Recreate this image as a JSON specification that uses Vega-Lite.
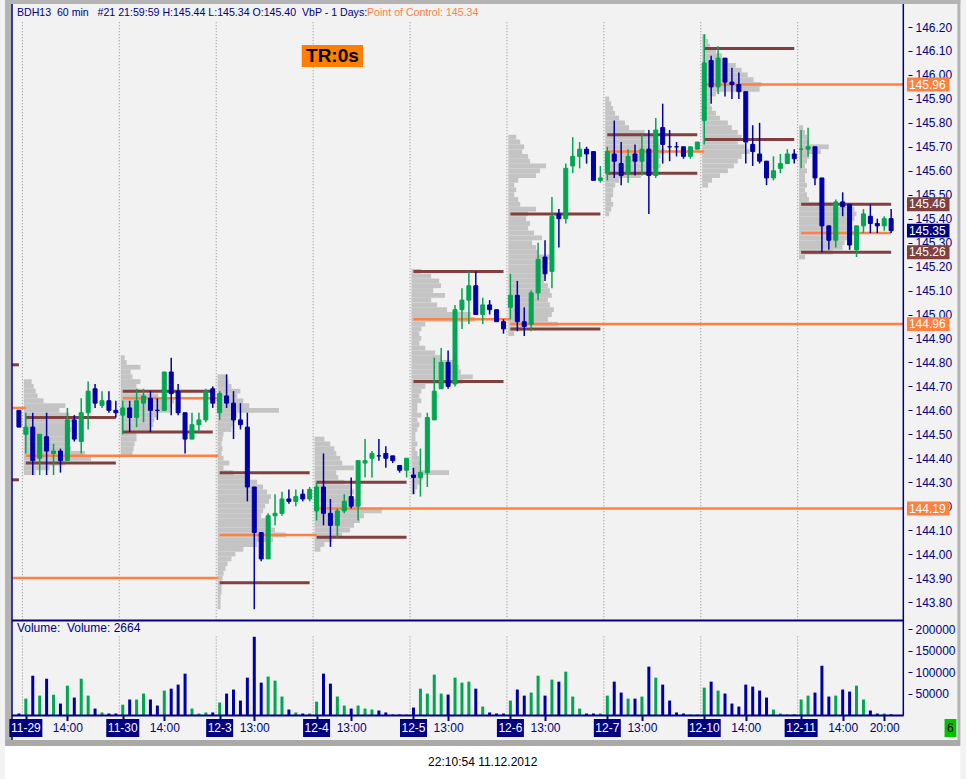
{
"$schema": "https://vega.github.io/schema/vega-lite/v6.json",
"width": 901, "height": 711.5, "padding": {"left": 7, "top": 4, "right": 58, "bottom": 63.5}, "autosize": {"type": "none"},
"background": "#f2f2f2",
"config": {"view": {"stroke": null, "fill": "#f2f2f2"}, "font": "Liberation Sans"},
"datasets": {
"bars": [
{"i":-1,"o":144.60,"h":144.60,"l":144.53,"c":144.53,"v":4600,"u":"dn"},
{"i":0,"o":144.50,"h":144.59,"l":144.42,"c":144.53,"v":39000,"u":"up"},
{"i":1,"o":144.53,"h":144.59,"l":144.33,"c":144.39,"v":92000,"u":"dn"},
{"i":2,"o":144.40,"h":144.50,"l":144.33,"c":144.50,"v":46000,"u":"up"},
{"i":3,"o":144.49,"h":144.59,"l":144.33,"c":144.43,"v":85000,"u":"dn"},
{"i":4,"o":144.42,"h":144.46,"l":144.33,"c":144.43,"v":48000,"u":"up"},
{"i":5,"o":144.43,"h":144.44,"l":144.34,"c":144.39,"v":27600,"u":"dn"},
{"i":6,"o":144.39,"h":144.61,"l":144.39,"c":144.56,"v":69000,"u":"up"},
{"i":7,"o":144.56,"h":144.58,"l":144.47,"c":144.48,"v":41500,"u":"dn"},
{"i":8,"o":144.47,"h":144.65,"l":144.42,"c":144.59,"v":85000,"u":"up"},
{"i":9,"o":144.59,"h":144.72,"l":144.52,"c":144.68,"v":46000,"u":"up"},
{"i":10,"o":144.69,"h":144.71,"l":144.61,"c":144.63,"v":16000,"u":"dn"},
{"i":11,"o":144.62,"h":144.68,"l":144.61,"c":144.64,"v":7000,"u":"up"},
{"i":12,"o":144.64,"h":144.68,"l":144.59,"c":144.60,"v":4600,"u":"dn"},
{"i":13,"o":144.60,"h":144.64,"l":144.57,"c":144.59,"v":4600,"u":"dn"},
{"i":14,"o":144.58,"h":144.64,"l":144.50,"c":144.61,"v":25000,"u":"up"},
{"i":15,"o":144.61,"h":144.64,"l":144.51,"c":144.57,"v":37000,"u":"dn"},
{"i":16,"o":144.57,"h":144.69,"l":144.53,"c":144.64,"v":37000,"u":"up"},
{"i":17,"o":144.63,"h":144.69,"l":144.55,"c":144.66,"v":50700,"u":"up"},
{"i":18,"o":144.65,"h":144.68,"l":144.51,"c":144.60,"v":37000,"u":"dn"},
{"i":19,"o":144.60,"h":144.65,"l":144.56,"c":144.60,"v":23000,"u":"dn"},
{"i":20,"o":144.60,"h":144.76,"l":144.60,"c":144.76,"v":57600,"u":"up"},
{"i":21,"o":144.76,"h":144.82,"l":144.58,"c":144.67,"v":62000,"u":"dn"},
{"i":22,"o":144.68,"h":144.71,"l":144.58,"c":144.59,"v":71400,"u":"dn"},
{"i":23,"o":144.59,"h":144.59,"l":144.42,"c":144.48,"v":96800,"u":"dn"},
{"i":24,"o":144.48,"h":144.59,"l":144.48,"c":144.54,"v":16000,"u":"up"},
{"i":25,"o":144.54,"h":144.59,"l":144.51,"c":144.56,"v":4600,"u":"up"},
{"i":26,"o":144.56,"h":144.69,"l":144.55,"c":144.68,"v":7000,"u":"up"},
{"i":27,"o":144.69,"h":144.70,"l":144.61,"c":144.63,"v":7000,"u":"dn"},
{"i":28,"o":144.59,"h":144.68,"l":144.56,"c":144.67,"v":30000,"u":"up"},
{"i":29,"o":144.66,"h":144.75,"l":144.61,"c":144.63,"v":50700,"u":"dn"},
{"i":30,"o":144.63,"h":144.68,"l":144.48,"c":144.56,"v":60000,"u":"dn"},
{"i":31,"o":144.56,"h":144.63,"l":144.52,"c":144.54,"v":34500,"u":"dn"},
{"i":32,"o":144.53,"h":144.59,"l":144.22,"c":144.28,"v":87500,"u":"dn"},
{"i":33,"o":144.28,"h":144.28,"l":143.77,"c":144.09,"v":182000,"u":"dn"},
{"i":34,"o":144.09,"h":144.09,"l":143.97,"c":143.98,"v":76000,"u":"dn"},
{"i":35,"o":143.98,"h":144.17,"l":143.98,"c":144.16,"v":90000,"u":"up"},
{"i":36,"o":144.16,"h":144.25,"l":144.12,"c":144.17,"v":80600,"u":"up"},
{"i":37,"o":144.17,"h":144.26,"l":144.16,"c":144.23,"v":43800,"u":"up"},
{"i":38,"o":144.23,"h":144.27,"l":144.21,"c":144.22,"v":13800,"u":"dn"},
{"i":39,"o":144.22,"h":144.27,"l":144.20,"c":144.24,"v":7000,"u":"up"},
{"i":40,"o":144.25,"h":144.27,"l":144.22,"c":144.23,"v":4600,"u":"dn"},
{"i":41,"o":144.23,"h":144.28,"l":144.22,"c":144.27,"v":4600,"u":"up"},
{"i":42,"o":144.18,"h":144.30,"l":144.14,"c":144.28,"v":32000,"u":"up"},
{"i":43,"o":144.28,"h":144.42,"l":144.12,"c":144.17,"v":96800,"u":"dn"},
{"i":44,"o":144.17,"h":144.23,"l":144.03,"c":144.12,"v":73700,"u":"dn"},
{"i":45,"o":144.12,"h":144.19,"l":144.07,"c":144.18,"v":43800,"u":"up"},
{"i":46,"o":144.18,"h":144.25,"l":144.17,"c":144.22,"v":23000,"u":"up"},
{"i":47,"o":144.24,"h":144.32,"l":144.19,"c":144.20,"v":16000,"u":"dn"},
{"i":48,"o":144.20,"h":144.39,"l":144.14,"c":144.39,"v":23000,"u":"up"},
{"i":49,"o":144.38,"h":144.48,"l":144.32,"c":144.39,"v":16000,"u":"up"},
{"i":50,"o":144.40,"h":144.43,"l":144.32,"c":144.42,"v":13800,"u":"up"},
{"i":51,"o":144.41,"h":144.48,"l":144.39,"c":144.41,"v":11500,"u":"dn"},
{"i":52,"o":144.42,"h":144.45,"l":144.36,"c":144.40,"v":7000,"u":"dn"},
{"i":53,"o":144.41,"h":144.41,"l":144.38,"c":144.39,"v":2300,"u":"dn"},
{"i":54,"o":144.37,"h":144.37,"l":144.34,"c":144.35,"v":2300,"u":"dn"},
{"i":55,"o":144.35,"h":144.40,"l":144.32,"c":144.40,"v":2300,"u":"up"},
{"i":56,"o":144.33,"h":144.36,"l":144.25,"c":144.32,"v":18400,"u":"dn"},
{"i":57,"o":144.32,"h":144.44,"l":144.24,"c":144.34,"v":62000,"u":"up"},
{"i":58,"o":144.34,"h":144.59,"l":144.28,"c":144.57,"v":50700,"u":"up"},
{"i":59,"o":144.56,"h":144.82,"l":144.56,"c":144.68,"v":94500,"u":"up"},
{"i":60,"o":144.69,"h":144.86,"l":144.69,"c":144.80,"v":50700,"u":"up"},
{"i":61,"o":144.80,"h":144.85,"l":144.69,"c":144.70,"v":48400,"u":"dn"},
{"i":62,"o":144.71,"h":145.04,"l":144.70,"c":145.02,"v":87500,"u":"up"},
{"i":63,"o":145.02,"h":145.11,"l":144.94,"c":145.06,"v":76000,"u":"up"},
{"i":64,"o":145.06,"h":145.18,"l":144.96,"c":145.12,"v":78300,"u":"up"},
{"i":65,"o":145.12,"h":145.18,"l":145.00,"c":145.00,"v":62000,"u":"dn"},
{"i":66,"o":145.00,"h":145.07,"l":144.96,"c":145.04,"v":20700,"u":"up"},
{"i":67,"o":145.04,"h":145.06,"l":145.00,"c":145.02,"v":7000,"u":"dn"},
{"i":68,"o":145.02,"h":145.02,"l":144.97,"c":144.97,"v":4600,"u":"dn"},
{"i":69,"o":144.97,"h":144.98,"l":144.92,"c":144.94,"v":4600,"u":"dn"},
{"i":70,"o":145.03,"h":145.17,"l":144.98,"c":145.08,"v":34500,"u":"up"},
{"i":71,"o":145.08,"h":145.14,"l":144.93,"c":144.97,"v":60000,"u":"dn"},
{"i":72,"o":144.97,"h":145.03,"l":144.91,"c":144.95,"v":46000,"u":"dn"},
{"i":73,"o":144.96,"h":145.10,"l":144.93,"c":145.09,"v":53000,"u":"up"},
{"i":74,"o":145.09,"h":145.30,"l":145.06,"c":145.23,"v":92000,"u":"up"},
{"i":75,"o":145.24,"h":145.31,"l":145.14,"c":145.17,"v":46000,"u":"dn"},
{"i":76,"o":145.18,"h":145.49,"l":145.11,"c":145.41,"v":83000,"u":"up"},
{"i":77,"o":145.42,"h":145.44,"l":145.28,"c":145.40,"v":78300,"u":"dn"},
{"i":78,"o":145.40,"h":145.63,"l":145.38,"c":145.61,"v":101400,"u":"up"},
{"i":79,"o":145.62,"h":145.74,"l":145.59,"c":145.66,"v":43800,"u":"up"},
{"i":80,"o":145.66,"h":145.72,"l":145.61,"c":145.69,"v":16000,"u":"up"},
{"i":81,"o":145.69,"h":145.70,"l":145.63,"c":145.67,"v":4600,"u":"dn"},
{"i":82,"o":145.68,"h":145.68,"l":145.56,"c":145.56,"v":4600,"u":"dn"},
{"i":83,"o":145.56,"h":145.62,"l":145.55,"c":145.57,"v":4600,"u":"up"},
{"i":84,"o":145.59,"h":145.70,"l":145.56,"c":145.68,"v":46000,"u":"up"},
{"i":85,"o":145.67,"h":145.81,"l":145.57,"c":145.64,"v":78300,"u":"dn"},
{"i":86,"o":145.63,"h":145.72,"l":145.54,"c":145.58,"v":53000,"u":"dn"},
{"i":87,"o":145.59,"h":145.69,"l":145.55,"c":145.66,"v":39000,"u":"up"},
{"i":88,"o":145.67,"h":145.71,"l":145.58,"c":145.64,"v":39000,"u":"dn"},
{"i":89,"o":145.64,"h":145.75,"l":145.58,"c":145.69,"v":43800,"u":"up"},
{"i":90,"o":145.69,"h":145.77,"l":145.42,"c":145.58,"v":113000,"u":"dn"},
{"i":91,"o":145.58,"h":145.82,"l":145.57,"c":145.77,"v":87500,"u":"up"},
{"i":92,"o":145.78,"h":145.88,"l":145.63,"c":145.71,"v":71400,"u":"dn"},
{"i":93,"o":145.70,"h":145.77,"l":145.64,"c":145.70,"v":34500,"u":"dn"},
{"i":94,"o":145.70,"h":145.72,"l":145.66,"c":145.70,"v":7000,"u":"dn"},
{"i":95,"o":145.70,"h":145.70,"l":145.65,"c":145.66,"v":4600,"u":"dn"},
{"i":96,"o":145.66,"h":145.70,"l":145.65,"c":145.70,"v":2300,"u":"up"},
{"i":97,"o":145.69,"h":145.72,"l":145.69,"c":145.72,"v":2300,"u":"up"},
{"i":98,"o":145.81,"h":146.17,"l":145.71,"c":146.05,"v":64500,"u":"up"},
{"i":99,"o":146.06,"h":146.08,"l":145.88,"c":145.95,"v":78300,"u":"dn"},
{"i":100,"o":145.95,"h":146.12,"l":145.92,"c":146.07,"v":57600,"u":"up"},
{"i":101,"o":146.07,"h":146.07,"l":145.91,"c":145.97,"v":50700,"u":"dn"},
{"i":102,"o":145.97,"h":146.03,"l":145.90,"c":145.96,"v":27600,"u":"dn"},
{"i":103,"o":145.96,"h":146.01,"l":145.90,"c":145.93,"v":20700,"u":"dn"},
{"i":104,"o":145.93,"h":145.93,"l":145.63,"c":145.72,"v":71400,"u":"dn"},
{"i":105,"o":145.71,"h":145.79,"l":145.62,"c":145.68,"v":66800,"u":"dn"},
{"i":106,"o":145.67,"h":145.80,"l":145.63,"c":145.64,"v":57600,"u":"dn"},
{"i":107,"o":145.64,"h":145.64,"l":145.54,"c":145.57,"v":41500,"u":"dn"},
{"i":108,"o":145.57,"h":145.66,"l":145.56,"c":145.60,"v":13800,"u":"up"},
{"i":109,"o":145.61,"h":145.67,"l":145.59,"c":145.63,"v":4600,"u":"up"},
{"i":110,"o":145.63,"h":145.69,"l":145.63,"c":145.67,"v":2300,"u":"up"},
{"i":111,"o":145.67,"h":145.69,"l":145.63,"c":145.65,"v":2300,"u":"dn"},
{"i":112,"o":145.69,"h":145.77,"l":145.61,"c":145.69,"v":37000,"u":"up"},
{"i":113,"o":145.69,"h":145.78,"l":145.66,"c":145.70,"v":46000,"u":"up"},
{"i":114,"o":145.70,"h":145.70,"l":145.54,"c":145.57,"v":53000,"u":"dn"},
{"i":115,"o":145.57,"h":145.57,"l":145.26,"c":145.37,"v":115000,"u":"dn"},
{"i":116,"o":145.37,"h":145.37,"l":145.27,"c":145.31,"v":43800,"u":"dn"},
{"i":117,"o":145.31,"h":145.48,"l":145.28,"c":145.47,"v":46000,"u":"up"},
{"i":118,"o":145.47,"h":145.51,"l":145.41,"c":145.45,"v":60000,"u":"dn"},
{"i":119,"o":145.46,"h":145.46,"l":145.27,"c":145.29,"v":55300,"u":"dn"},
{"i":120,"o":145.27,"h":145.37,"l":145.24,"c":145.37,"v":69000,"u":"up"},
{"i":121,"o":145.37,"h":145.44,"l":145.34,"c":145.42,"v":37000,"u":"up"},
{"i":122,"o":145.41,"h":145.46,"l":145.34,"c":145.38,"v":11500,"u":"dn"},
{"i":123,"o":145.38,"h":145.40,"l":145.34,"c":145.37,"v":4600,"u":"dn"},
{"i":124,"o":145.37,"h":145.41,"l":145.35,"c":145.40,"v":4600,"u":"up"},
{"i":125,"o":145.40,"h":145.44,"l":145.34,"c":145.35,"v":2664,"u":"dn"}
],
"prof": [
{"d":0,"p":144.72,"v":8},{"d":0,"p":144.70,"v":10},{"d":0,"p":144.68,"v":12},{"d":0,"p":144.66,"v":14},{"d":0,"p":144.64,"v":20},{"d":0,"p":144.62,"v":42},{"d":0,"p":144.60,"v":36},{"d":0,"p":144.58,"v":46},{"d":0,"p":144.56,"v":50},{"d":0,"p":144.54,"v":44},{"d":0,"p":144.52,"v":48},{"d":0,"p":144.50,"v":44},{"d":0,"p":144.48,"v":46},{"d":0,"p":144.46,"v":44},{"d":0,"p":144.44,"v":48},{"d":0,"p":144.42,"v":62},{"d":0,"p":144.40,"v":68},{"d":0,"p":144.38,"v":42},{"d":0,"p":144.36,"v":26},{"d":0,"p":144.34,"v":12},
{"d":1,"p":144.82,"v":4},{"d":1,"p":144.80,"v":6},{"d":1,"p":144.78,"v":20},{"d":1,"p":144.76,"v":10},{"d":1,"p":144.74,"v":12},{"d":1,"p":144.72,"v":20},{"d":1,"p":144.70,"v":16},{"d":1,"p":144.68,"v":20},{"d":1,"p":144.66,"v":38},{"d":1,"p":144.64,"v":54},{"d":1,"p":144.62,"v":52},{"d":1,"p":144.60,"v":50},{"d":1,"p":144.58,"v":36},{"d":1,"p":144.56,"v":34},{"d":1,"p":144.54,"v":33},{"d":1,"p":144.52,"v":30},{"d":1,"p":144.50,"v":16},{"d":1,"p":144.48,"v":16},{"d":1,"p":144.46,"v":14},{"d":1,"p":144.44,"v":13},{"d":1,"p":144.42,"v":12},
{"d":2,"p":144.74,"v":10},{"d":2,"p":144.72,"v":11},{"d":2,"p":144.70,"v":14},{"d":2,"p":144.68,"v":23},{"d":2,"p":144.66,"v":20},{"d":2,"p":144.64,"v":26},{"d":2,"p":144.62,"v":32},{"d":2,"p":144.60,"v":62},{"d":2,"p":144.58,"v":20},{"d":2,"p":144.56,"v":18},{"d":2,"p":144.54,"v":15},{"d":2,"p":144.52,"v":14},{"d":2,"p":144.50,"v":6},{"d":2,"p":144.48,"v":5},{"d":2,"p":144.46,"v":4},{"d":2,"p":144.44,"v":5},{"d":2,"p":144.42,"v":4},{"d":2,"p":144.40,"v":6},{"d":2,"p":144.38,"v":12},{"d":2,"p":144.36,"v":6},{"d":2,"p":144.34,"v":16},{"d":2,"p":144.32,"v":30},{"d":2,"p":144.30,"v":40},{"d":2,"p":144.28,"v":46},{"d":2,"p":144.26,"v":50},{"d":2,"p":144.24,"v":54},{"d":2,"p":144.22,"v":52},{"d":2,"p":144.20,"v":48},{"d":2,"p":144.18,"v":46},{"d":2,"p":144.16,"v":44},{"d":2,"p":144.14,"v":50},{"d":2,"p":144.12,"v":54},{"d":2,"p":144.10,"v":58},{"d":2,"p":144.08,"v":69},{"d":2,"p":144.06,"v":56},{"d":2,"p":144.04,"v":40},{"d":2,"p":144.02,"v":26},{"d":2,"p":144.00,"v":18},{"d":2,"p":143.98,"v":14},{"d":2,"p":143.96,"v":10},{"d":2,"p":143.94,"v":8},{"d":2,"p":143.92,"v":6},{"d":2,"p":143.90,"v":5},{"d":2,"p":143.88,"v":4},{"d":2,"p":143.86,"v":4},{"d":2,"p":143.84,"v":4},{"d":2,"p":143.82,"v":3},{"d":2,"p":143.80,"v":3},{"d":2,"p":143.78,"v":3},
{"d":3,"p":144.48,"v":10},{"d":3,"p":144.46,"v":16},{"d":3,"p":144.44,"v":20},{"d":3,"p":144.42,"v":22},{"d":3,"p":144.40,"v":26},{"d":3,"p":144.38,"v":28},{"d":3,"p":144.36,"v":40},{"d":3,"p":144.34,"v":22},{"d":3,"p":144.32,"v":24},{"d":3,"p":144.30,"v":30},{"d":3,"p":144.28,"v":36},{"d":3,"p":144.26,"v":40},{"d":3,"p":144.24,"v":38},{"d":3,"p":144.22,"v":42},{"d":3,"p":144.20,"v":46},{"d":3,"p":144.18,"v":68},{"d":3,"p":144.16,"v":50},{"d":3,"p":144.14,"v":46},{"d":3,"p":144.12,"v":40},{"d":3,"p":144.10,"v":36},{"d":3,"p":144.08,"v":28},{"d":3,"p":144.06,"v":18},{"d":3,"p":144.04,"v":10},{"d":3,"p":144.02,"v":6},
{"d":4,"p":145.18,"v":10},{"d":4,"p":145.16,"v":20},{"d":4,"p":145.14,"v":28},{"d":4,"p":145.12,"v":30},{"d":4,"p":145.10,"v":22},{"d":4,"p":145.08,"v":34},{"d":4,"p":145.06,"v":20},{"d":4,"p":145.04,"v":26},{"d":4,"p":145.02,"v":36},{"d":4,"p":145.00,"v":60},{"d":4,"p":144.98,"v":64},{"d":4,"p":144.96,"v":14},{"d":4,"p":144.94,"v":10},{"d":4,"p":144.92,"v":8},{"d":4,"p":144.90,"v":10},{"d":4,"p":144.88,"v":8},{"d":4,"p":144.86,"v":14},{"d":4,"p":144.84,"v":24},{"d":4,"p":144.82,"v":30},{"d":4,"p":144.80,"v":44},{"d":4,"p":144.78,"v":48},{"d":4,"p":144.76,"v":50},{"d":4,"p":144.74,"v":62},{"d":4,"p":144.72,"v":52},{"d":4,"p":144.70,"v":14},{"d":4,"p":144.68,"v":10},{"d":4,"p":144.66,"v":8},{"d":4,"p":144.64,"v":10},{"d":4,"p":144.62,"v":6},{"d":4,"p":144.60,"v":6},{"d":4,"p":144.58,"v":10},{"d":4,"p":144.56,"v":6},{"d":4,"p":144.54,"v":8},{"d":4,"p":144.52,"v":6},{"d":4,"p":144.50,"v":4},{"d":4,"p":144.48,"v":4},{"d":4,"p":144.46,"v":6},{"d":4,"p":144.44,"v":4},{"d":4,"p":144.42,"v":6},{"d":4,"p":144.40,"v":8},{"d":4,"p":144.38,"v":10},{"d":4,"p":144.36,"v":8},{"d":4,"p":144.34,"v":38},{"d":4,"p":144.32,"v":12},{"d":4,"p":144.30,"v":10},{"d":4,"p":144.28,"v":6},{"d":4,"p":144.26,"v":4},
{"d":5,"p":145.74,"v":8},{"d":5,"p":145.72,"v":12},{"d":5,"p":145.70,"v":16},{"d":5,"p":145.68,"v":14},{"d":5,"p":145.66,"v":20},{"d":5,"p":145.64,"v":22},{"d":5,"p":145.62,"v":38},{"d":5,"p":145.60,"v":32},{"d":5,"p":145.58,"v":28},{"d":5,"p":145.56,"v":10},{"d":5,"p":145.54,"v":6},{"d":5,"p":145.52,"v":8},{"d":5,"p":145.50,"v":6},{"d":5,"p":145.48,"v":10},{"d":5,"p":145.46,"v":12},{"d":5,"p":145.44,"v":28},{"d":5,"p":145.42,"v":20},{"d":5,"p":145.40,"v":18},{"d":5,"p":145.38,"v":22},{"d":5,"p":145.36,"v":20},{"d":5,"p":145.34,"v":26},{"d":5,"p":145.32,"v":34},{"d":5,"p":145.30,"v":24},{"d":5,"p":145.28,"v":28},{"d":5,"p":145.26,"v":30},{"d":5,"p":145.24,"v":46},{"d":5,"p":145.22,"v":40},{"d":5,"p":145.20,"v":36},{"d":5,"p":145.18,"v":34},{"d":5,"p":145.16,"v":38},{"d":5,"p":145.14,"v":36},{"d":5,"p":145.12,"v":40},{"d":5,"p":145.10,"v":42},{"d":5,"p":145.08,"v":44},{"d":5,"p":145.06,"v":40},{"d":5,"p":145.04,"v":42},{"d":5,"p":145.02,"v":46},{"d":5,"p":145.00,"v":44},{"d":5,"p":144.98,"v":40},{"d":5,"p":144.96,"v":50},{"d":5,"p":144.94,"v":14},{"d":5,"p":144.92,"v":6},
{"d":6,"p":145.90,"v":4},{"d":6,"p":145.88,"v":6},{"d":6,"p":145.86,"v":8},{"d":6,"p":145.84,"v":10},{"d":6,"p":145.82,"v":14},{"d":6,"p":145.80,"v":20},{"d":6,"p":145.78,"v":24},{"d":6,"p":145.76,"v":40},{"d":6,"p":145.74,"v":50},{"d":6,"p":145.72,"v":54},{"d":6,"p":145.70,"v":56},{"d":6,"p":145.68,"v":60},{"d":6,"p":145.66,"v":56},{"d":6,"p":145.64,"v":54},{"d":6,"p":145.62,"v":56},{"d":6,"p":145.60,"v":48},{"d":6,"p":145.58,"v":36},{"d":6,"p":145.56,"v":14},{"d":6,"p":145.54,"v":10},{"d":6,"p":145.52,"v":8},{"d":6,"p":145.50,"v":8},{"d":6,"p":145.48,"v":6},{"d":6,"p":145.46,"v":8},{"d":6,"p":145.44,"v":6},{"d":6,"p":145.42,"v":4},
{"d":7,"p":146.16,"v":4},{"d":7,"p":146.14,"v":6},{"d":7,"p":146.12,"v":8},{"d":7,"p":146.10,"v":14},{"d":7,"p":146.08,"v":20},{"d":7,"p":146.06,"v":26},{"d":7,"p":146.04,"v":34},{"d":7,"p":146.02,"v":40},{"d":7,"p":146.00,"v":46},{"d":7,"p":145.98,"v":52},{"d":7,"p":145.96,"v":60},{"d":7,"p":145.94,"v":58},{"d":7,"p":145.92,"v":14},{"d":7,"p":145.90,"v":8},{"d":7,"p":145.88,"v":8},{"d":7,"p":145.86,"v":10},{"d":7,"p":145.84,"v":14},{"d":7,"p":145.82,"v":18},{"d":7,"p":145.80,"v":26},{"d":7,"p":145.78,"v":30},{"d":7,"p":145.76,"v":36},{"d":7,"p":145.74,"v":40},{"d":7,"p":145.72,"v":36},{"d":7,"p":145.70,"v":44},{"d":7,"p":145.68,"v":48},{"d":7,"p":145.66,"v":40},{"d":7,"p":145.64,"v":36},{"d":7,"p":145.62,"v":32},{"d":7,"p":145.60,"v":26},{"d":7,"p":145.58,"v":18},{"d":7,"p":145.56,"v":10},{"d":7,"p":145.54,"v":6},
{"d":8,"p":145.78,"v":4},{"d":8,"p":145.76,"v":6},{"d":8,"p":145.74,"v":8},{"d":8,"p":145.72,"v":10},{"d":8,"p":145.70,"v":30},{"d":8,"p":145.68,"v":22},{"d":8,"p":145.66,"v":10},{"d":8,"p":145.64,"v":8},{"d":8,"p":145.62,"v":6},{"d":8,"p":145.60,"v":8},{"d":8,"p":145.58,"v":6},{"d":8,"p":145.56,"v":6},{"d":8,"p":145.54,"v":8},{"d":8,"p":145.52,"v":6},{"d":8,"p":145.50,"v":8},{"d":8,"p":145.48,"v":10},{"d":8,"p":145.46,"v":34},{"d":8,"p":145.44,"v":56},{"d":8,"p":145.42,"v":58},{"d":8,"p":145.40,"v":56},{"d":8,"p":145.38,"v":52},{"d":8,"p":145.36,"v":54},{"d":8,"p":145.34,"v":60},{"d":8,"p":145.32,"v":50},{"d":8,"p":145.30,"v":46},{"d":8,"p":145.28,"v":44},{"d":8,"p":145.26,"v":34},{"d":8,"p":145.24,"v":6}
],
"lines": [
{"p":144.61,"a":-2,"b":0,"k":"poc"},{"p":143.90,"a":-2,"b":27.8,"k":"poc"},{"p":144.41,"a":0,"b":27.8,"k":"poc"},{"p":144.65,"a":14,"b":27.8,"k":"poc"},{"p":144.08,"a":28,"b":42,"k":"poc"},{"p":144.19,"a":42,"b":126.8,"k":"poc"},{"p":144.98,"a":56,"b":70,"k":"poc"},{"p":144.96,"a":70,"b":126.8,"k":"poc"},{"p":145.68,"a":84,"b":98,"k":"poc"},{"p":145.96,"a":98,"b":126.8,"k":"poc"},{"p":145.34,"a":112,"b":125,"k":"poc"},
{"p":144.79,"a":-2,"b":-1,"k":"va"},{"p":144.31,"a":-2,"b":-1,"k":"va"},{"p":144.57,"a":0,"b":13,"k":"va"},{"p":144.38,"a":0,"b":13,"k":"va"},{"p":144.68,"a":14,"b":27,"k":"va"},{"p":144.51,"a":14,"b":27,"k":"va"},{"p":144.34,"a":28,"b":41,"k":"va"},{"p":143.88,"a":28,"b":41,"k":"va"},{"p":144.30,"a":42,"b":55,"k":"va"},{"p":144.07,"a":42,"b":55,"k":"va"},{"p":145.18,"a":56,"b":69,"k":"va"},{"p":144.72,"a":56,"b":69,"k":"va"},{"p":145.42,"a":70,"b":83,"k":"va"},{"p":144.94,"a":70,"b":83,"k":"va"},{"p":145.75,"a":84,"b":97,"k":"va"},{"p":145.59,"a":84,"b":97,"k":"va"},{"p":146.11,"a":98,"b":111,"k":"va"},{"p":145.73,"a":98,"b":111,"k":"va"},{"p":145.46,"a":112,"b":125,"k":"va"},{"p":145.26,"a":112,"b":125,"k":"va"}
],
"days": [
{"d":0,"t":"11-29"},{"d":1,"t":"11-30"},{"d":2,"t":"12-3"},{"d":3,"t":"12-4"},{"d":4,"t":"12-5"},{"d":5,"t":"12-6"},{"d":6,"t":"12-7"},{"d":7,"t":"12-10"},{"d":8,"t":"12-11"}
],
"tags": [
{"p":145.96,"k":"poc"},{"p":145.46,"k":"va"},{"p":145.35,"k":"last"},{"p":145.26,"k":"va"},{"p":144.96,"k":"poc"},{"p":144.19,"k":"poc"}
]
},
"resolve": {"scale": {"y": "independent"}, "axis": {"y": "independent"}},
"layer": [
{
"data": {"values": [{}]},
"layer": [
{"mark": {"type": "rect", "fill": "#ffffff"}, "encoding": {"x": {"datum": -3, "type": "quantitative", "scale": {"domain": [-2, 126.714], "nice": false, "zero": false}}, "x2": {"datum": 135}, "y": {"datum": 0, "type": "quantitative", "scale": {"domain": [0, 1], "range": [775, -4], "nice": false, "zero": false}, "axis": null}, "y2": {"datum": 0.04236}}},
{"mark": {"type": "rect", "fill": "#a9a9a9"}, "encoding": {"x": {"datum": -3, "type": "quantitative", "scale": {"domain": [-2, 126.714], "nice": false, "zero": false}}, "x2": {"datum": 135}, "y": {"datum": 0.04236, "type": "quantitative", "scale": {"domain": [0, 1], "range": [775, -4], "nice": false, "zero": false}, "axis": null}, "y2": {"datum": 0.05006}}},
{"mark": {"type": "rect", "fill": "#b4b4b4"}, "encoding": {"x": {"datum": -3, "type": "quantitative", "scale": {"domain": [-2, 126.714], "nice": false, "zero": false}}, "x2": {"datum": -2.05}, "y": {"datum": 0.05006, "type": "quantitative", "scale": {"domain": [0, 1], "range": [775, -4], "nice": false, "zero": false}, "axis": null}, "y2": {"datum": 1}}},
{"mark": {"type": "rect", "fill": "#b4b4b4"}, "encoding": {"x": {"datum": -3, "type": "quantitative", "scale": {"domain": [-2, 126.714], "nice": false, "zero": false}}, "x2": {"datum": 135}, "y": {"datum": 0.99487, "type": "quantitative", "scale": {"domain": [0, 1], "range": [775, -4], "nice": false, "zero": false}, "axis": null}, "y2": {"datum": 1}}},
{"mark": {"type": "rect", "fill": "#b4b4b4"}, "encoding": {"x": {"datum": 134.571, "type": "quantitative", "scale": {"domain": [-2, 126.714], "nice": false, "zero": false}}, "x2": {"datum": 135}, "y": {"datum": 0.05006, "type": "quantitative", "scale": {"domain": [0, 1], "range": [775, -4], "nice": false, "zero": false}, "axis": null}, "y2": {"datum": 1}}}
]
},
{
"layer": [
{"data": {"name": "days"}, "transform": [{"calculate": "datum.d*14-0.5", "as": "b"}],
 "mark": {"type": "rule", "stroke": "#8c8c8c", "strokeDash": [1, 2], "strokeWidth": 1},
 "encoding": {"x": {"field": "b", "type": "quantitative", "scale": {"domain": [-2, 126.714], "nice": false, "zero": false}}, "y": {"datum": 146.22, "type": "quantitative", "scale": {"domain": [143.8, 146.2], "range": [598, 23], "nice": false, "zero": false}, "axis": {"orient": "right"}}, "y2": {"datum": 143.725}}},
{"data": {"name": "prof"}, "transform": [{"calculate": "datum.d*14-0.3", "as": "s"}, {"calculate": "datum.s+datum.v/7", "as": "e"}, {"calculate": "datum.p-0.01", "as": "p0"}, {"calculate": "datum.p+0.01", "as": "p1"}],
 "mark": {"type": "rect", "fill": "#c4c4c4"},
 "encoding": {"x": {"field": "s", "type": "quantitative", "scale": {"domain": [-2, 126.714], "nice": false, "zero": false}}, "x2": {"field": "e"}, "y": {"field": "p0", "type": "quantitative", "scale": {"domain": [143.8, 146.2], "range": [598, 23], "nice": false, "zero": false}, "axis": {"orient": "right"}}, "y2": {"field": "p1"}}},
{"data": {"name": "lines"}, "transform": [{"filter": "datum.k == 'poc'"}],
 "mark": {"type": "rule", "stroke": "#ff8040", "strokeWidth": 2.5},
 "encoding": {"x": {"field": "a", "type": "quantitative", "scale": {"domain": [-2, 126.714], "nice": false, "zero": false}}, "x2": {"field": "b"}, "y": {"field": "p", "type": "quantitative", "scale": {"domain": [143.8, 146.2], "range": [598, 23], "nice": false, "zero": false}, "axis": {"orient": "right"}}}},
{"data": {"name": "lines"}, "transform": [{"filter": "datum.k == 'va'"}],
 "mark": {"type": "rule", "stroke": "#804040", "strokeWidth": 3},
 "encoding": {"x": {"field": "a", "type": "quantitative", "scale": {"domain": [-2, 126.714], "nice": false, "zero": false}}, "x2": {"field": "b"}, "y": {"field": "p", "type": "quantitative", "scale": {"domain": [143.8, 146.2], "range": [598, 23], "nice": false, "zero": false}, "axis": {"orient": "right"}}}},
{"data": {"name": "bars"},
 "mark": {"type": "rule", "strokeWidth": 1.5},
 "encoding": {"x": {"field": "i", "type": "quantitative", "scale": {"domain": [-2, 126.714], "nice": false, "zero": false}},
  "y": {"field": "l", "type": "quantitative", "scale": {"domain": [143.8, 146.2], "range": [598, 23], "nice": false, "zero": false},
   "axis": {"orient": "right", "values": [143.8,143.9,144,144.1,144.2,144.3,144.4,144.5,144.6,144.7,144.8,144.9,145,145.1,145.2,145.3,145.4,145.5,145.6,145.7,145.8,145.9,146,146.1,146.2], "tickCount": 40, "format": ".2f", "labelColor": "#000080", "tickColor": "#000080", "tickSize": 4, "tickWidth": 1, "domain": false, "grid": false, "labelFont": "Liberation Sans", "labelFontSize": 12, "labelPadding": 3, "title": null, "labelOverlap": false, "labelFlush": false}},
  "y2": {"field": "h"},
  "color": {"field": "u", "type": "nominal", "scale": {"domain": ["up", "dn"], "range": ["#00a651", "#0000a8"]}, "legend": null}}},
{"data": {"name": "bars"},
 "mark": {"type": "bar", "width": 4, "strokeWidth": 1},
 "encoding": {"x": {"field": "i", "type": "quantitative", "scale": {"domain": [-2, 126.714], "nice": false, "zero": false}},
  "y": {"field": "o", "type": "quantitative", "scale": {"domain": [143.8, 146.2], "range": [598, 23], "nice": false, "zero": false}, "axis": {"orient": "right"}},
  "y2": {"field": "c"},
  "color": {"field": "u", "type": "nominal", "scale": {"domain": ["up", "dn"], "range": ["#00a651", "#0000a8"]}, "legend": null},
  "stroke": {"field": "u", "type": "nominal", "scale": {"domain": ["up", "dn"], "range": ["#00a651", "#0000a8"]}, "legend": null}}},
{"data": {"values": [{}]},
 "mark": {"type": "text", "color": "#000080", "align": "left", "baseline": "middle", "font": "Liberation Sans", "fontSize": 10.6},
 "encoding": {"x": {"datum": -1.29, "type": "quantitative", "scale": {"domain": [-2, 126.714], "nice": false, "zero": false}},
  "y": {"datum": 146.258, "type": "quantitative", "scale": {"domain": [143.8, 146.2], "range": [598, 23], "nice": false, "zero": false}, "axis": {"orient": "right"}},
  "text": {"value": "BDH13\u00a0\u00a060 min\u00a0\u00a0\u00a0#21 21:59:59 H:145.44 L:145.34 O:145.40\u00a0\u00a0VbP - 1 Days:"}}},
{"data": {"values": [{}]},
 "mark": {"type": "text", "color": "#ff8040", "align": "left", "baseline": "middle", "font": "Liberation Sans", "fontSize": 10.6},
 "encoding": {"x": {"datum": 49.29, "type": "quantitative", "scale": {"domain": [-2, 126.714], "nice": false, "zero": false}},
  "y": {"datum": 146.258, "type": "quantitative", "scale": {"domain": [143.8, 146.2], "range": [598, 23], "nice": false, "zero": false}, "axis": {"orient": "right"}},
  "text": {"value": "Point of Control: 145.34"}}},
{"data": {"values": [{}]},
 "mark": {"type": "rect", "fill": "#ff8000"},
 "encoding": {"x": {"datum": 39.857, "type": "quantitative", "scale": {"domain": [-2, 126.714], "nice": false, "zero": false}}, "x2": {"datum": 48.714},
  "y": {"datum": 146.033, "type": "quantitative", "scale": {"domain": [143.8, 146.2], "range": [598, 23], "nice": false, "zero": false}, "axis": {"orient": "right"}}, "y2": {"datum": 146.125}}},
{"data": {"values": [{}]},
 "mark": {"type": "text", "color": "#000000", "align": "center", "baseline": "middle", "font": "Liberation Sans", "fontSize": 19, "fontWeight": "bold"},
 "encoding": {"x": {"datum": 44.29, "type": "quantitative", "scale": {"domain": [-2, 126.714], "nice": false, "zero": false}},
  "y": {"datum": 146.079, "type": "quantitative", "scale": {"domain": [143.8, 146.2], "range": [598, 23], "nice": false, "zero": false}, "axis": {"orient": "right"}},
  "text": {"value": "TR:0s"}}},
{"data": {"name": "tags"}, "transform": [{"calculate": "datum.p-0.029", "as": "p0"}, {"calculate": "datum.p+0.029", "as": "p1"}],
 "mark": {"type": "rect"},
 "encoding": {"x": {"datum": 127.29, "type": "quantitative", "scale": {"domain": [-2, 126.714], "nice": false, "zero": false}}, "x2": {"datum": 133.43},
  "y": {"field": "p0", "type": "quantitative", "scale": {"domain": [143.8, 146.2], "range": [598, 23], "nice": false, "zero": false}, "axis": {"orient": "right"}}, "y2": {"field": "p1"},
  "fill": {"field": "k", "type": "nominal", "scale": {"domain": ["poc", "va", "last"], "range": ["#ff8040", "#804040", "#000080"]}, "legend": null}}},
{"data": {"name": "tags"}, "transform": [{"calculate": "format(datum.p, '.2f')", "as": "lab"}],
 "mark": {"type": "text", "color": "#ffffff", "align": "left", "baseline": "middle", "font": "Liberation Sans", "fontSize": 12},
 "encoding": {"x": {"datum": 127.57, "type": "quantitative", "scale": {"domain": [-2, 126.714], "nice": false, "zero": false}},
  "y": {"field": "p", "type": "quantitative", "scale": {"domain": [143.8, 146.2], "range": [598, 23], "nice": false, "zero": false}, "axis": {"orient": "right"}},
  "text": {"field": "lab"}}}
]
},
{
"layer": [
{"data": {"name": "days"}, "transform": [{"calculate": "datum.d*14-0.5", "as": "b"}],
 "mark": {"type": "rule", "stroke": "#8c8c8c", "strokeDash": [1, 2], "strokeWidth": 1},
 "encoding": {"x": {"field": "b", "type": "quantitative", "scale": {"domain": [-2, 126.714], "nice": false, "zero": false}}, "y": {"datum": 0, "type": "quantitative", "scale": {"domain": [0, 200000], "range": [711.5, 625], "nice": false}, "axis": {"orient": "right"}}, "y2": {"datum": 185000}}},
{"data": {"name": "bars"},
 "mark": {"type": "bar", "width": 3},
 "encoding": {"x": {"field": "i", "type": "quantitative", "scale": {"domain": [-2, 126.714], "nice": false, "zero": false},
   "axis": {"orient": "bottom", "values": [0,6,14,20,28,33,42,47,56,61,70,75,84,89,98,104,112,118,124], "tickCount": 40, "labelExpr": "indexof([0,14,28,42,56,70,84,98,112], datum.value) >= 0 ? '' : (datum.value == 124 ? '20:00' : (indexof([6,20,104,118], datum.value) >= 0 ? '14:00' : '13:00'))", "tickColor": "#000080", "tickSize": 5, "tickWidth": 2, "domain": false, "grid": false, "labelColor": "#000080", "labelFont": "Liberation Sans", "labelFontSize": 12, "labelPadding": 2, "labelOverlap": false, "labelFlush": false, "title": null}},
  "y": {"field": "v", "type": "quantitative", "scale": {"domain": [0, 200000], "range": [711.5, 625], "nice": false},
   "axis": {"orient": "right", "values": [50000, 100000, 150000, 200000], "tickCount": 10, "format": "d", "labelColor": "#000080", "tickColor": "#000080", "tickSize": 4, "tickWidth": 1, "domain": false, "grid": false, "labelFont": "Liberation Sans", "labelFontSize": 12, "labelPadding": 3, "title": null, "labelOverlap": false, "labelFlush": false}},
  "color": {"field": "u", "type": "nominal", "scale": {"domain": ["up", "dn"], "range": ["#00a651", "#0000a8"]}, "legend": null}}},
{"data": {"values": [{}]},
 "mark": {"type": "text", "color": "#000080", "align": "left", "baseline": "middle", "font": "Liberation Sans", "fontSize": 12},
 "encoding": {"x": {"datum": -1.29, "type": "quantitative", "scale": {"domain": [-2, 126.714], "nice": false, "zero": false}},
  "y": {"datum": 201500, "type": "quantitative", "scale": {"domain": [0, 200000], "range": [711.5, 625], "nice": false}, "axis": {"orient": "right"}},
  "text": {"value": "Volume:\u00a0\u00a0Volume: 2664"}}}
]
},
{
"layer": [
{"data": {"values": [{}]}, "mark": {"type": "rule", "stroke": "#000080", "strokeWidth": 1.5},
 "encoding": {"x": {"datum": -2, "type": "quantitative", "scale": {"domain": [-2, 126.714], "nice": false, "zero": false}}, "y": {"datum": 0.05006, "type": "quantitative", "scale": {"domain": [0, 1], "range": [775, -4], "nice": false, "zero": false}, "axis": null}, "y2": {"datum": 0.99487}}},
{"data": {"values": [{}]}, "mark": {"type": "rule", "stroke": "#000080", "strokeWidth": 2},
 "encoding": {"x": {"datum": -2, "type": "quantitative", "scale": {"domain": [-2, 126.714], "nice": false, "zero": false}}, "x2": {"datum": 126.8}, "y": {"datum": 0.20347, "type": "quantitative", "scale": {"domain": [0, 1], "range": [775, -4], "nice": false, "zero": false}, "axis": null}}},
{"data": {"values": [{}]}, "mark": {"type": "rule", "stroke": "#000080", "strokeWidth": 2},
 "encoding": {"x": {"datum": -2, "type": "quantitative", "scale": {"domain": [-2, 126.714], "nice": false, "zero": false}}, "x2": {"datum": 126.8}, "y": {"datum": 0.08151, "type": "quantitative", "scale": {"domain": [0, 1], "range": [775, -4], "nice": false, "zero": false}, "axis": null}}},
{"data": {"values": [{}]}, "mark": {"type": "rule", "stroke": "#000080", "strokeWidth": 1.5},
 "encoding": {"x": {"datum": 126.76, "type": "quantitative", "scale": {"domain": [-2, 126.714], "nice": false, "zero": false}}, "y": {"datum": 0.08151, "type": "quantitative", "scale": {"domain": [0, 1], "range": [775, -4], "nice": false, "zero": false}, "axis": null}, "y2": {"datum": 0.99487}}},
{"data": {"name": "days"}, "transform": [{"calculate": "datum.d*14", "as": "c"}, {"filter": "length(datum.t) == 5"}],
 "mark": {"type": "bar", "width": 33, "fill": "#000080"},
 "encoding": {"x": {"field": "c", "type": "quantitative", "scale": {"domain": [-2, 126.714], "nice": false, "zero": false}}, "y": {"datum": 0.05392, "type": "quantitative", "scale": {"domain": [0, 1], "range": [775, -4], "nice": false, "zero": false}, "axis": null}, "y2": {"datum": 0.07702}}},
{"data": {"name": "days"}, "transform": [{"calculate": "datum.d*14", "as": "c"}, {"filter": "length(datum.t) == 4"}],
 "mark": {"type": "bar", "width": 27, "fill": "#000080"},
 "encoding": {"x": {"field": "c", "type": "quantitative", "scale": {"domain": [-2, 126.714], "nice": false, "zero": false}}, "y": {"datum": 0.05392, "type": "quantitative", "scale": {"domain": [0, 1], "range": [775, -4], "nice": false, "zero": false}, "axis": null}, "y2": {"datum": 0.07702}}},
{"data": {"name": "days"}, "transform": [{"calculate": "datum.d*14", "as": "c"}],
 "mark": {"type": "text", "color": "#ffffff", "align": "center", "baseline": "middle", "font": "Liberation Sans", "fontSize": 12},
 "encoding": {"x": {"field": "c", "type": "quantitative", "scale": {"domain": [-2, 126.714], "nice": false, "zero": false}}, "y": {"datum": 0.06547, "type": "quantitative", "scale": {"domain": [0, 1], "range": [775, -4], "nice": false, "zero": false}, "axis": null}, "text": {"field": "t"}}},
{"data": {"values": [{}]}, "mark": {"type": "rect", "fill": "#00c000"},
 "encoding": {"x": {"datum": 132.714, "type": "quantitative", "scale": {"domain": [-2, 126.714], "nice": false, "zero": false}}, "x2": {"datum": 134.43}, "y": {"datum": 0.05392, "type": "quantitative", "scale": {"domain": [0, 1], "range": [775, -4], "nice": false, "zero": false}, "axis": null}, "y2": {"datum": 0.07702}}},
{"data": {"values": [{}]}, "mark": {"type": "text", "color": "#000000", "align": "center", "baseline": "middle", "font": "Liberation Sans", "fontSize": 12},
 "encoding": {"x": {"datum": 133.571, "type": "quantitative", "scale": {"domain": [-2, 126.714], "nice": false, "zero": false}}, "y": {"datum": 0.06547, "type": "quantitative", "scale": {"domain": [0, 1], "range": [775, -4], "nice": false, "zero": false}, "axis": null}, "text": {"value": "6"}}},
{"data": {"values": [{}]}, "mark": {"type": "text", "color": "#000000", "align": "center", "baseline": "middle", "font": "Liberation Sans", "fontSize": 12},
 "encoding": {"x": {"datum": 66, "type": "quantitative", "scale": {"domain": [-2, 126.714], "nice": false, "zero": false}}, "y": {"datum": 0.02182, "type": "quantitative", "scale": {"domain": [0, 1], "range": [775, -4], "nice": false, "zero": false}, "axis": null}, "text": {"value": "22:10:54 11.12.2012"}}}
]
}
]
}
